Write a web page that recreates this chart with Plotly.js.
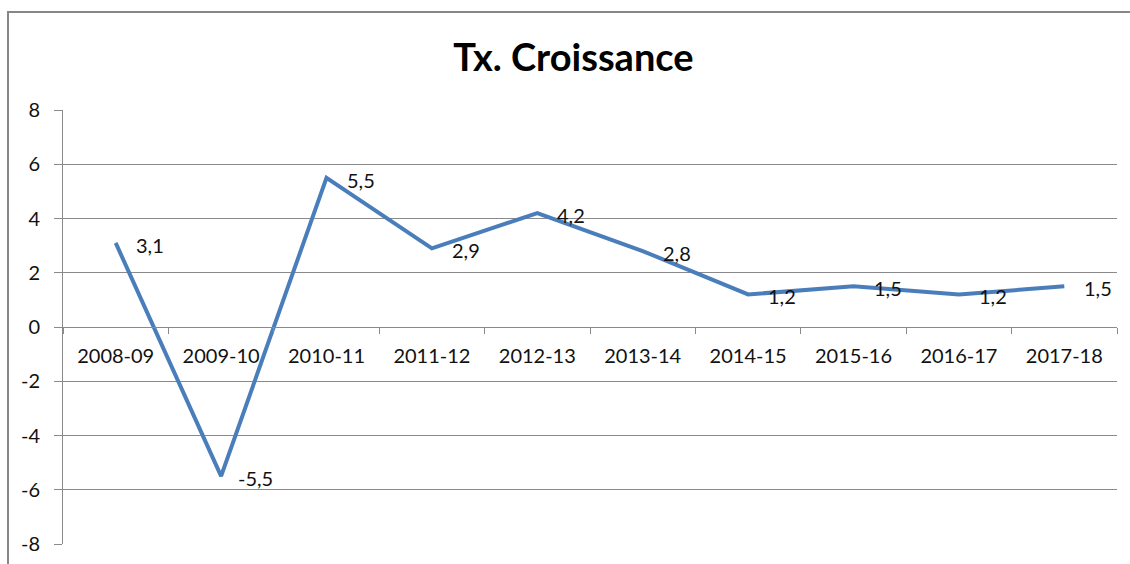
<!DOCTYPE html>
<html>
<head>
<meta charset="utf-8">
<script src="https://cdn.plot.ly/plotly-3.0.1.min.js"></script>
<style>
  html, body { margin: 0; padding: 0; background: #fff; overflow: hidden; }
  #wrap { position: relative; width: 1130px; height: 564px; overflow: hidden; }
  #chart { width: 1130px; height: 564px; }
  #frame { position: absolute; left: 7px; top: 11px; width: 2000px; height: 2000px;
           border-left: 2.5px solid #878787; border-top: 2.5px solid #878787; pointer-events: none; }
</style>
</head>
<body>
<div id="wrap">
  <div id="chart"></div>
  <div id="frame"></div>
</div>
<script>
const categories = ["2008-09", "2009-10", "2010-11", "2011-12", "2012-13", "2013-14", "2014-15", "2015-16", "2016-17", "2017-18"];
const growthRate = [3.1, -5.5, 5.5, 2.9, 4.2, 2.8, 1.2, 1.5, 1.2, 1.5];
const yTickValues = [-8, -6, -4, -2, 0, 2, 4, 6, 8];

const fontFamily = "Lato, 'Open Sans', sans-serif";
const gridGray = "#8a8a8a";

const trace = {
  type: "scatter",
  mode: "lines",
  x: categories,
  y: growthRate,
  line: { color: "#4A7EBB", width: 4 },
  hoverinfo: "x+y",
  showlegend: false
};

const annotations = categories.map((c, i) => ({
  x: c,
  y: growthRate[i],
  xref: "x",
  yref: "y",
  text: String(growthRate[i]).replace(".", ","),
  showarrow: false,
  xanchor: "center",
  yanchor: "middle",
  xshift: 34,
  yshift: -2,
  font: { family: fontFamily, size: 20, color: "#111111" }
}));

const layout = {
  width: 1130,
  height: 564,
  paper_bgcolor: "rgba(0,0,0,0)",
  plot_bgcolor: "rgba(0,0,0,0)",
  margin: { l: 63, r: 13, t: 109.5, b: 20 },
  title: {
    text: "<b>Tx. Croissance</b>",
    font: { family: fontFamily, size: 38, color: "#000000" },
    xref: "container",
    yref: "container",
    x: 0.5075,
    y: 0.897,
    xanchor: "center",
    yanchor: "middle"
  },
  xaxis: {
    type: "category",
    range: [-0.5, 9.5],
    anchor: "free",
    position: 0.5,
    showline: true,
    linecolor: gridGray,
    linewidth: 1,
    showgrid: false,
    zeroline: false,
    ticks: "outside",
    tickson: "boundaries",
    ticklen: 6,
    tickcolor: gridGray,
    ticklabelstandoff: 11,
    tickfont: { family: fontFamily, size: 20, color: "#111111" },
    fixedrange: true
  },
  yaxis: {
    range: [-8, 8],
    tickvals: yTickValues,
    ticktext: yTickValues.map(v => String(v)),
    showline: true,
    linecolor: gridGray,
    linewidth: 1,
    showgrid: true,
    gridcolor: gridGray,
    gridwidth: 1,
    zeroline: false,
    ticks: "outside",
    ticklen: 8,
    tickcolor: gridGray,
    ticklabelstandoff: 10,
    tickfont: { family: fontFamily, size: 20, color: "#111111" },
    fixedrange: true
  },
  annotations: annotations
};

Plotly.newPlot("chart", [trace], layout, { displayModeBar: false });
</script>
</body>
</html>
